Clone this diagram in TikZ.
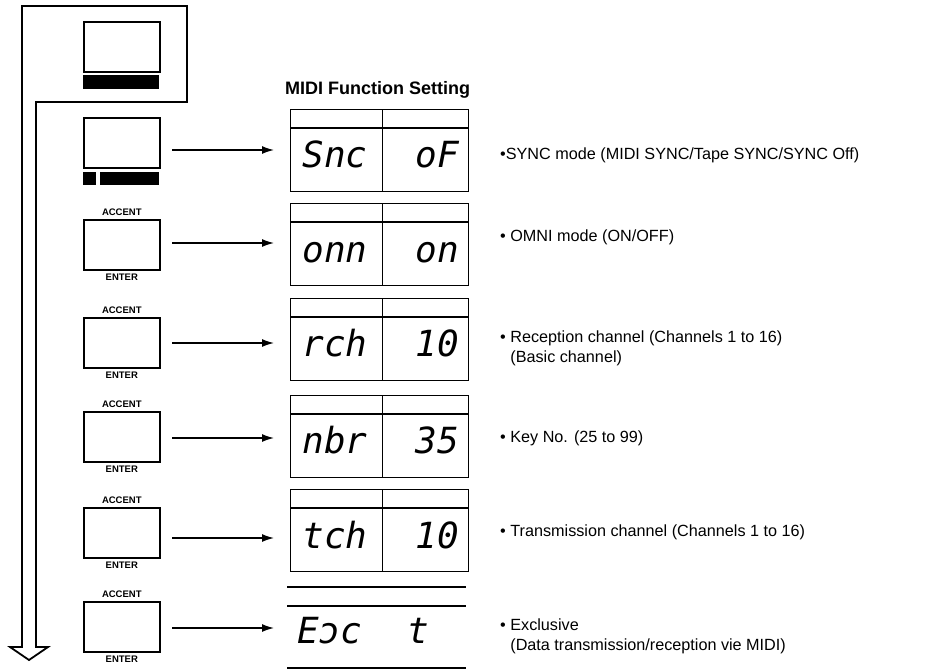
\documentclass[tikz,border=0pt]{standalone}
\usepackage{fontspec}
\setmainfont{Liberation Sans}
\newfontfamily\segfont{DejaVu Sans Mono}
\usetikzlibrary{arrows.meta,positioning}
\tikzset{
  frameline/.style={line width=1.8pt, line join=miter},
  btn/.style={draw, line width=1.6pt, minimum width=76pt, minimum height=50pt, inner sep=0pt, anchor=north west},
  bar/.style={fill=black, draw=none},
  keylbl/.style={font=\fontsize{9.5}{9.5}\selectfont\bfseries, inner sep=0pt},
  disp/.style={draw, line width=1.3pt, minimum width=178pt, minimum height=82pt, inner sep=0pt, anchor=north west},
  dline/.style={line width=1.1pt},
  seg/.style={font=\segfont\itshape\fontsize{36}{36}\selectfont, inner sep=0pt},
  conn/.style={line width=1.4pt, -{Latex[length=12pt,width=8pt]}},
  lbl/.style={font=\fontsize{16.2}{20}\selectfont, anchor=west, inner sep=0pt, align=left},
  ttl/.style={font=\fontsize{18}{18}\selectfont\bfseries, anchor=west, inner sep=0pt}
}
\newcommand\mydisp[2]{%
  \node[disp] (#1) at (290,#2) {};
  \draw[dline] ([yshift=-19pt]#1.north west) -- ([yshift=-19pt]#1.north east);
  \draw[dline] (#1.north) ++(3pt,0) coordinate (#1t) -- (#1t |- #1.south);
}
\begin{document}
\begin{tikzpicture}[x=1pt,y=-1pt]
\useasboundingbox (0,0) rectangle (933,670);
% frame with hollow arrow
\draw[frameline] (22,647) -- (22,6) -- (187,6) -- (187,102) -- (36,102) -- (36,647)
   -- (48,647) -- (29,660) -- (10,647) -- cycle;
% buttons
\node[btn] (b1) at (83,21) {};
\fill[bar] (83,75) rectangle (159,89);
\node[btn] (b2) at (83,117) {};
\fill[bar] (83,172) rectangle (96,185);
\fill[bar] (100,172) rectangle (159,185);
\node[btn] (b3) at (83,219) {};
\node[btn] (b4) at (83,317) {};
\node[btn] (b5) at (83,411) {};
\node[btn] (b6) at (83,507) {};
\node[btn] (b7) at (83,601) {};
\foreach \b in {b3,b4,b5,b6,b7}{
  \node[keylbl, above=3.5pt of \b.north] (acc\b) {ACCENT};
  \node[keylbl, below=3.5pt of \b.south] (ent\b) {ENTER};
}
% title
\node[ttl] (title) at (285,90) {MIDI Function Setting};
% displays
\mydisp{d1}{109}
\mydisp{d2}{203}
\mydisp{d3}{298}
\mydisp{d4}{395}
\mydisp{d5}{489}
% last display: only horizontal lines
\coordinate (d6a) at (287,587);
\coordinate (d6b) at (466,587);
\draw[dline] (d6a) -- (d6b);
\draw[dline] (287,606) -- (466,606);
\draw[dline] (287,668) -- (466,668);
% segment texts
\node[seg, anchor=base] (s1l) at (335,167) {Snc};
\node[seg, anchor=base east] (s1r) at (459,167) {oF};
\node[seg, anchor=base] (s2l) at (335,262) {onn};
\node[seg, anchor=base east] (s2r) at (459,262) {on};
\node[seg, anchor=base] (s3l) at (335,356) {rch};
\node[seg, anchor=base east] (s3r) at (459,356) {10};
\node[seg, anchor=base] (s4l) at (335,453) {nbr};
\node[seg, anchor=base east] (s4r) at (459,453) {35};
\node[seg, anchor=base] (s5l) at (335,548) {tch};
\node[seg, anchor=base east] (s5r) at (459,548) {10};
\node[seg, anchor=base west] (s6l) at (297,643) {Eɔc};
\node[seg, anchor=base west] (s6r) at (407,643) {t};
% connectors
\foreach \i/\y in {1/150,2/243,3/343,4/438,5/538,6/628}{
  \coordinate (st\i) at (172,\y);
  \coordinate (en\i) at (274,\y);
  \draw[conn] (st\i) -- (en\i);
}
% labels
\node[lbl] (l1) at (500,155) {•SYNC mode (MIDI SYNC/Tape SYNC/SYNC Off)};
\node[lbl] (l2) at (500,237) {• OMNI mode (ON/OFF)};
\node[lbl, anchor=north west] (l3) at (500,331) {• Reception channel (Channels 1 to 16)\\\phantom{• }(Basic channel)};
\node[lbl] (l4) at (500,438) {• Key No. (25 to 99)};
\node[lbl] (l5) at (500,532) {• Transmission channel (Channels 1 to 16)};
\node[lbl, anchor=north west] (l6) at (500,619) {• Exclusive\\\phantom{• }(Data transmission/reception vie MIDI)};
\end{tikzpicture}
\end{document}
